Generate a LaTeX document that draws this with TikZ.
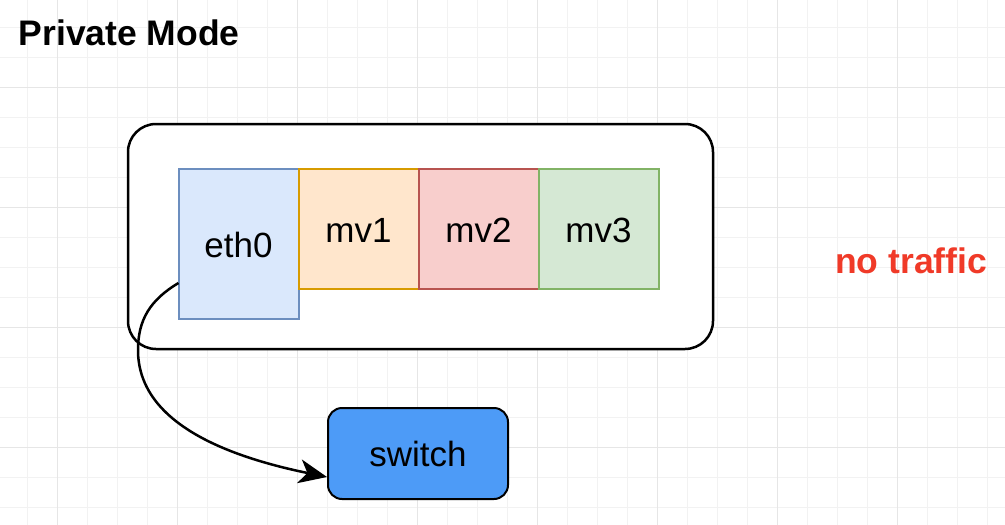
\documentclass[tikz,border=0pt]{standalone}
\usepackage{fontspec}
\setmainfont{Liberation Sans}[Ligatures=NoCommon]
\usetikzlibrary{arrows.meta}
\definecolor{gridminor}{HTML}{F2F2F2}
\definecolor{gridmajor}{HTML}{E6E6E6}
\definecolor{ethfill}{HTML}{DAE8FC}\definecolor{ethdraw}{HTML}{6C8EBF}
\definecolor{mvafill}{HTML}{FFE6CC}\definecolor{mvadraw}{HTML}{D79B00}
\definecolor{mvbfill}{HTML}{F8CECC}\definecolor{mvbdraw}{HTML}{B85450}
\definecolor{mvcfill}{HTML}{D5E8D4}\definecolor{mvcdraw}{HTML}{82B366}
\definecolor{swfill}{RGB}{77,155,247}
\definecolor{alertred}{RGB}{240,58,40}
\begin{document}
\begin{tikzpicture}[x=1pt,y=-1pt,
  txt/.style={font=\fontsize{35}{42}\selectfont, text height=26pt, text depth=0pt},
  ifbox/.style={txt, draw, line width=2pt, inner sep=0pt, outer sep=0pt, minimum width=120pt},
  minorline/.style={draw=gridminor, line width=1pt},
  majorline/.style={draw=gridmajor, line width=1pt},
  arr/.style={draw=black, line width=2.5pt, -{Stealth[length=28pt,width=24pt,inset=8pt]}}
]
\useasboundingbox (0,0) rectangle (1005,525);
\fill[white] (0,0) rectangle (1005,525);
% grid
\foreach \i in {0,...,32} \draw[minorline] (27.5+30*\i,0) -- (27.5+30*\i,525);
\foreach \j in {0,...,16} \draw[minorline] (0,27+30*\j) -- (1005,27+30*\j);
\foreach \i in {0,...,7} \draw[majorline] (57.5+120*\i,0) -- (57.5+120*\i,525);
\foreach \j in {0,...,3} \draw[majorline] (0,87+120*\j) -- (1005,87+120*\j);

% title
\node[font=\fontsize{35.5}{42}\selectfont\bfseries, anchor=base west, inner sep=0pt] (title) at (18.5,45) {Private Mode};

% host container
\node[draw=black, fill=white, line width=2.5pt, rounded corners=28pt, minimum width=585pt, minimum height=225pt, inner sep=0pt] (host) at (420.5,236.5) {};

% interfaces
\node[ifbox, fill=ethfill, draw=ethdraw, minimum height=150pt] (eth0) at (238.5,244) {eth0};
\node[ifbox, fill=mvafill, draw=mvadraw, minimum height=120pt] (mv1) at (358.5,229) {mv1};
\node[ifbox, fill=mvbfill, draw=mvbdraw, minimum height=120pt] (mv2) at (478.5,229) {mv2};
\node[ifbox, fill=mvcfill, draw=mvcdraw, minimum height=120pt] (mv3) at (598.5,229) {mv3};

% switch
\node[txt, draw=black, fill=swfill, line width=2pt, rounded corners=14pt, minimum width=180pt, minimum height=91pt, inner sep=0pt] (switch) at (418,453.5) {switch};

% no traffic
\node[font=\fontsize{35.5}{42}\selectfont\bfseries, text=alertred, anchor=base west, inner sep=0pt] (notraffic) at (835,273) {no traffic};

% connector
\coordinate (ethout) at ([yshift=-39pt]eth0.west);
\coordinate (bend) at (138,350);
\coordinate (swin) at ([yshift=-23.5pt]switch.west);
\draw[arr] (ethout) .. controls (150,300) and (138,320) .. (bend)
  .. controls (138,420) and (220,455) .. (swin);
\end{tikzpicture}
\end{document}
